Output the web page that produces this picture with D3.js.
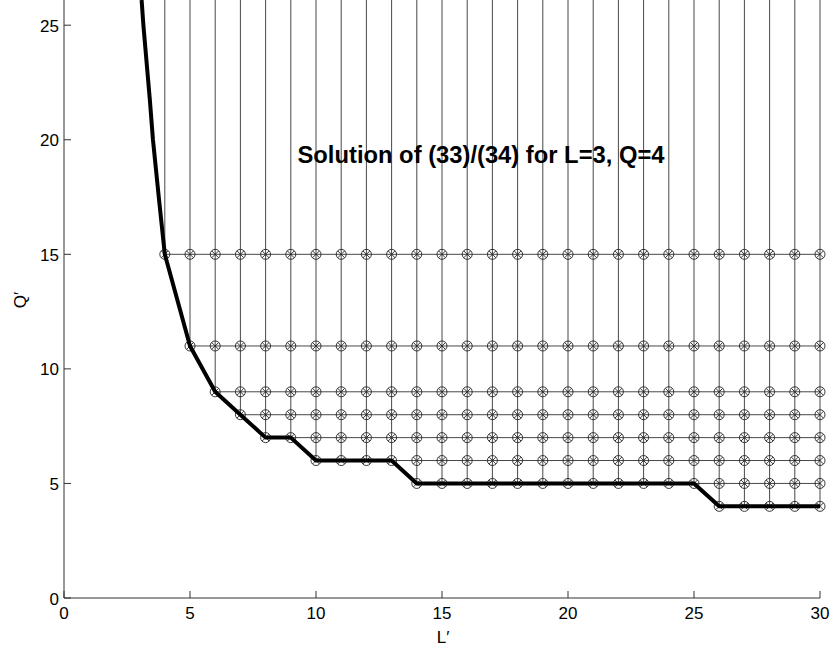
<!DOCTYPE html>
<html><head><meta charset="utf-8">
<script src="https://cdn.jsdelivr.net/npm/d3@7"></script>
<style>body{margin:0;background:#fff}svg{display:block}text{font-family:"Liberation Sans",Arial,sans-serif}</style>
</head><body><svg id="c" width="832" height="650"></svg>
<script>
// Data
const Lvals = [4,5,6,7,8,9,10,11,12,13,14,15,16,17,18,19,20,21,22,23,24,25,26,27,28,29,30];
const minQ  = [15,11,9,8,7,7,6,6,6,6,5,5,5,5,5,5,5,5,5,5,5,5,4,4,4,4,4];
const Qlevels = [15,11,9,8,7,6,5,4];
// continuous part of the solution curve for L' < 4
const curveL = [3.08,3.15,3.41,3.53,3.77];
const curveQ = [26.1,25.0,21.7,20.0,17.4];
const xTicks = [0,5,10,15,20,25,30];
const yTicks = [0,5,10,15,20,25];
const title = "Solution of (33)/(34) for L=3, Q=4";

const svg = d3.select("#c");
const x = d3.scaleLinear().domain([0,30]).range([64,820]);
const y = d3.scaleLinear().domain([0,26.1]).range([598,0]);
const yTop = 26.1;

const g = svg.append("g");
// vertical grid lines
g.selectAll("line.v").data(Lvals).join("line")
  .attr("x1",d=>x(d)).attr("x2",d=>x(d))
  .attr("y1",y(yTop)).attr("y2",(d,i)=>y(minQ[i]))
  .attr("stroke","#333").attr("stroke-width",0.9);
// horizontal grid lines
g.selectAll("line.h").data(Qlevels).join("line")
  .attr("x1",q=>x(Lvals[minQ.findIndex(m=>m<=q)])).attr("x2",x(30))
  .attr("y1",q=>y(q)).attr("y2",q=>y(q))
  .attr("stroke","#333").attr("stroke-width",0.9);

// markers
const pts = [];
Lvals.forEach((L,i)=>Qlevels.forEach(q=>{ if(q>=minQ[i]) pts.push([L,q]); }));
const mk = g.selectAll("g.m").data(pts).join("g")
  .attr("transform",d=>`translate(${x(d[0])},${y(d[1])})`);
mk.append("circle").attr("r",5).attr("fill","none").attr("stroke","#222").attr("stroke-width",0.9);
const s=3.4;
mk.append("path").attr("d",`M${-s},${-s}L${s},${s}M${-s},${s}L${s},${-s}`)
  .attr("stroke","#222").attr("stroke-width",0.9);

// thick solution curve
const line = d3.line().x(d=>x(d[0])).y(d=>y(d[1]));
const curve = curveL.map((l,i)=>[l,curveQ[i]]).concat(Lvals.map((L,i)=>[L,minQ[i]]));
g.append("path").datum(curve).attr("d",line).attr("fill","none")
  .attr("stroke","#000").attr("stroke-width",4).attr("stroke-linejoin","round");

// axes
const ax = svg.append("g");
ax.append("line").attr("x1",x(0)).attr("x2",x(30)).attr("y1",y(0)).attr("y2",y(0)).attr("stroke","#333").attr("stroke-width",1);
ax.append("line").attr("x1",x(0)).attr("x2",x(0)).attr("y1",y(0)).attr("y2",y(yTop)).attr("stroke","#333").attr("stroke-width",1);
ax.selectAll("line.xt").data(xTicks).join("line")
  .attr("x1",d=>x(d)).attr("x2",d=>x(d)).attr("y1",y(0)).attr("y2",y(0)-7).attr("stroke","#333");
ax.selectAll("line.yt").data(yTicks).join("line")
  .attr("x1",x(0)).attr("x2",x(0)+7).attr("y1",d=>y(d)).attr("y2",d=>y(d)).attr("stroke","#333");
ax.selectAll("text.xl").data(xTicks).join("text")
  .attr("x",d=>x(d)).attr("y",y(0)+21).attr("text-anchor","middle").attr("font-size",17).text(d=>d);
ax.selectAll("text.yl").data(yTicks).join("text")
  .attr("x",x(0)-5).attr("y",d=>y(d)+6.5).attr("text-anchor","end").attr("font-size",17).text(d=>d);
svg.append("text").attr("x",443).attr("y",643).attr("text-anchor","middle").attr("font-size",17).text("L\u2032");
svg.append("text").attr("transform","translate(26,300) rotate(-90)").attr("text-anchor","middle").attr("font-size",17).text("Q\u2032");
svg.append("text").attr("x",481).attr("y",163).attr("text-anchor","middle").attr("font-size",23).attr("font-weight","bold")
  .attr("textLength",367).attr("lengthAdjust","spacingAndGlyphs").text(title);
</script></body></html>
